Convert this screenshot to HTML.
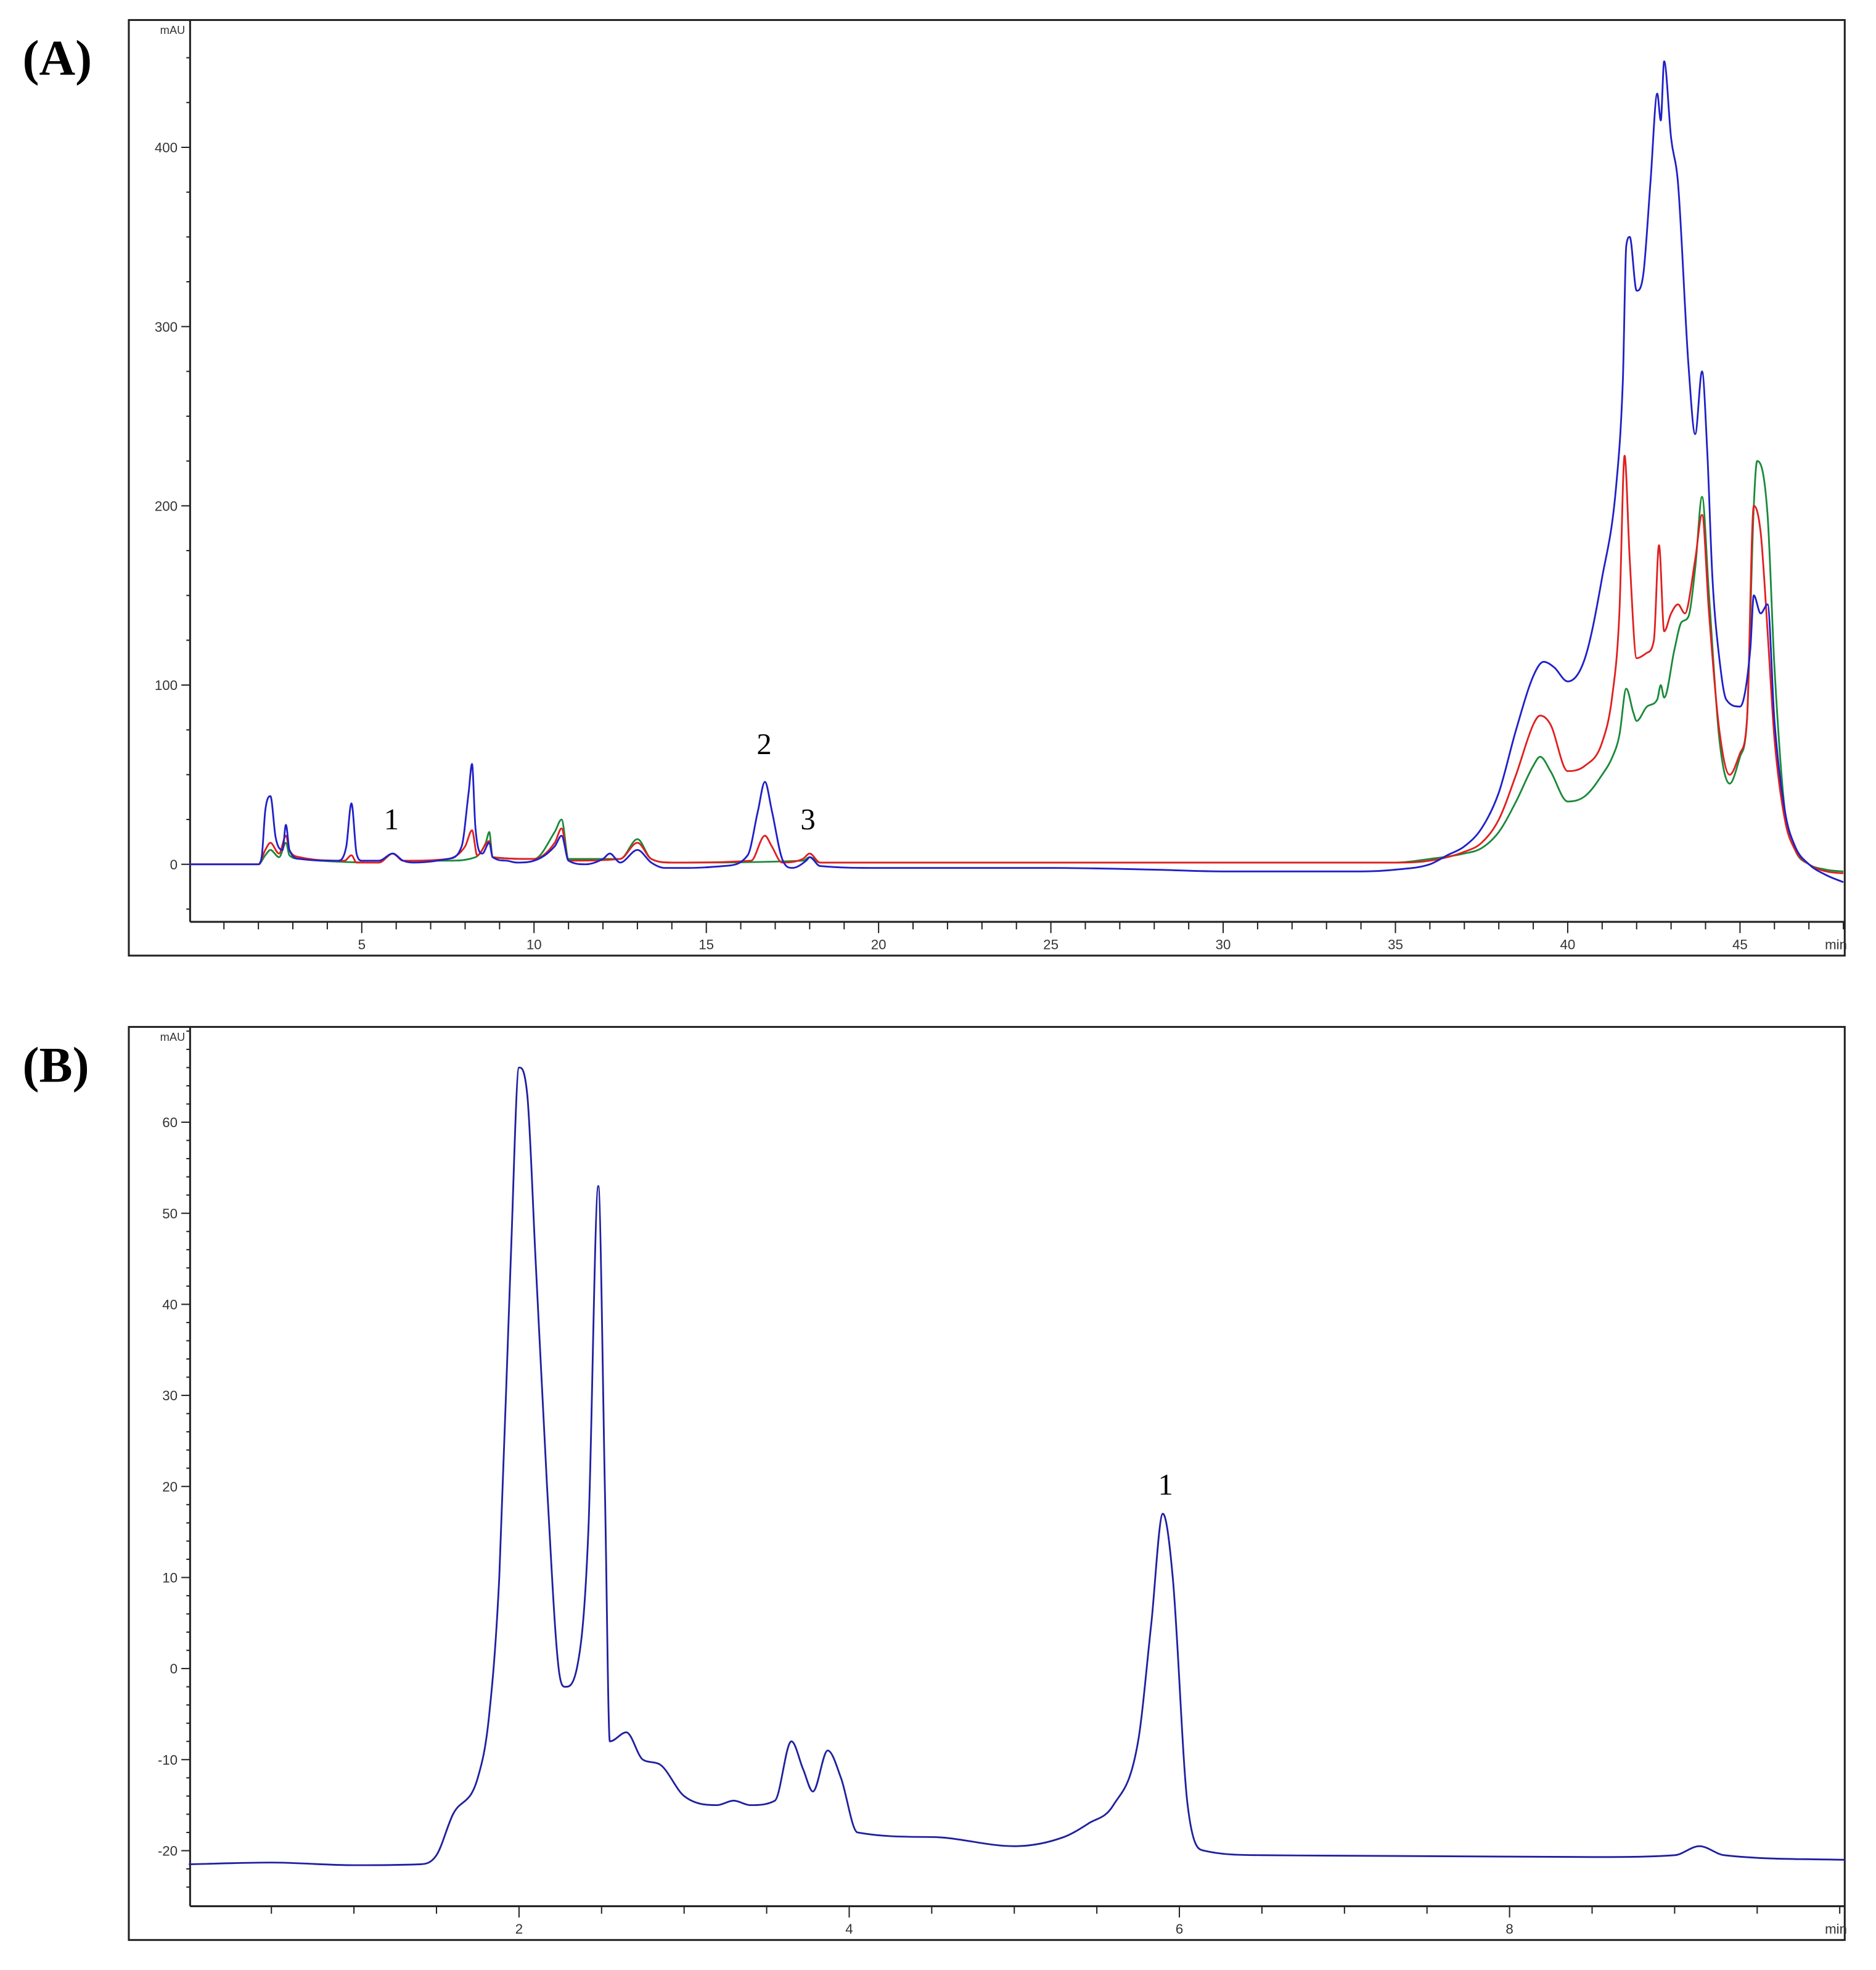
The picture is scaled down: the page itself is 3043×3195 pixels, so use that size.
<!DOCTYPE html>
<html><head><meta charset="utf-8"><style>
html,body{margin:0;padding:0;background:#fff;}
svg{display:block;}
.tk{font-family:"Liberation Sans",sans-serif;font-size:11px;fill:#333;}
.pl{font-family:"Liberation Serif",serif;font-weight:bold;font-size:40px;fill:#000;}
.pk{font-family:"Liberation Serif",serif;font-size:24px;fill:#000;}
</style></head><body>
<svg id="fig" width="3043" height="3195" viewBox="0 0 1500 1575" preserveAspectRatio="none" xmlns="http://www.w3.org/2000/svg">
<rect x="0" y="0" width="1500" height="1575" fill="#fff"/>
<text class="pl" x="18" y="60">(A)</text>
<text class="pl" x="18" y="865">(B)</text>
<rect x="103" y="16" width="1372" height="748" fill="none" stroke="#222" stroke-width="1.5"/>
<rect x="103" y="821" width="1372" height="730" fill="none" stroke="#222" stroke-width="1.5"/>
<g id="gA"></g>
<g id="gB"></g>
<text class="pk" x="313" y="663" text-anchor="middle">1</text>
<text class="pk" x="611" y="603" text-anchor="middle">2</text>
<text class="pk" x="646" y="663" text-anchor="middle">3</text>
<text class="pk" x="932" y="1195" text-anchor="middle">1</text>
</svg>
<script>
const NS="http://www.w3.org/2000/svg";
// Panel A data (time min, mAU)
const aXTicks=[5,10,15,20,25,30,35,40,45];
const aYTicks=[0,100,200,300,400];
const aBlue=[[0,0],[2.0,0],[2.1,5],[2.2,30],[2.35,38],[2.5,15],[2.7,8],[2.8,22],[2.9,8],[3.2,3],[4.3,2],[4.55,10],[4.7,34],[4.85,6],[5.0,2],[5.5,2],[5.9,6],[6.2,2],[6.5,1],[7.5,3],[7.9,10],[8.1,40],[8.2,56],[8.3,20],[8.5,6],[8.7,12],[8.8,4],[9.2,2],[9.5,1],[10.0,2],[10.6,10],[10.8,16],[11.0,2],[11.5,0],[12.0,3],[12.2,6],[12.5,1],[13.0,8],[13.4,1],[13.8,-2],[14.5,-2],[15.5,-1],[16.2,5],[16.5,30],[16.7,46],[16.9,30],[17.2,3],[17.5,-2],[17.9,2],[18.0,4],[18.3,-1],[20,-2],[25,-2],[28,-3],[30,-4],[34,-4],[35,-3],[36,0],[36.5,5],[37,10],[37.5,20],[38,40],[38.5,75],[39,105],[39.3,113],[39.6,110],[40.0,102],[40.5,115],[41,160],[41.4,210],[41.6,270],[41.7,345],[41.8,350],[42.0,320],[42.2,330],[42.4,380],[42.6,430],[42.7,415],[42.8,448],[43.0,405],[43.2,380],[43.5,280],[43.7,240],[43.9,275],[44.05,230],[44.2,160],[44.4,115],[44.6,92],[45.0,88],[45.3,120],[45.4,150],[45.6,140],[45.8,145],[46.0,80],[46.3,30],[46.6,10],[47,0],[47.5,-6],[48,-10]];
const aRed=[[0,0],[2.0,0],[2.2,8],[2.35,12],[2.6,6],[2.8,16],[2.9,8],[3.2,4],[4.5,2],[4.7,5],[4.85,1],[5.5,1],[5.9,6],[6.2,2],[7.5,3],[8.0,10],[8.2,19],[8.35,5],[8.7,13],[8.8,4],[10,3],[10.6,12],[10.8,20],[11.0,2],[12.5,3],[13.0,12],[13.4,3],[14,1],[16.3,2],[16.7,16],[16.9,10],[17.2,1],[17.8,3],[18.0,6],[18.3,1],[35,1],[36,2],[37,7],[37.5,12],[38,25],[38.5,50],[39,78],[39.2,83],[39.5,78],[40,52],[40.5,55],[41.0,68],[41.3,95],[41.5,140],[41.65,228],[41.8,170],[42.0,115],[42.3,118],[42.5,125],[42.65,178],[42.8,130],[43.0,140],[43.2,145],[43.4,140],[43.7,170],[43.9,195],[44.1,140],[44.4,75],[44.7,50],[45.0,62],[45.2,80],[45.4,200],[45.6,185],[45.8,130],[46.0,70],[46.3,25],[46.6,8],[47,0],[47.5,-4],[48,-5]];
const aGreen=[[0,0],[2.0,0],[2.2,5],[2.35,8],[2.6,4],[2.8,12],[2.9,5],[3.2,3],[5.5,1],[5.9,6],[6.2,2],[7.5,2],[8.3,4],[8.6,12],[8.7,18],[8.8,4],[10,3],[10.6,18],[10.8,25],[11.0,3],[12.5,3],[13.0,14],[13.4,3],[14,1],[17.8,2],[18.0,4],[18.3,1],[35,1],[36,3],[37,6],[37.5,9],[38,18],[38.5,35],[39,55],[39.2,60],[39.5,52],[40,35],[40.5,38],[41.0,50],[41.3,60],[41.5,72],[41.7,98],[41.9,85],[42.0,80],[42.3,88],[42.6,92],[42.7,100],[42.8,93],[43.1,120],[43.3,135],[43.5,138],[43.7,165],[43.9,205],[44.1,150],[44.4,70],[44.7,45],[45.0,60],[45.2,80],[45.4,200],[45.5,225],[45.8,195],[46.0,110],[46.3,30],[46.6,8],[47,0],[47.5,-3],[48,-4]];
// Panel B data
const bXTicks=[2,4,6,8];
const bYTicks=[-20,-10,0,10,20,30,40,50,60];
const bBlue=[[0,-21.5],[0.5,-21.3],[1.0,-21.6],[1.4,-21.5],[1.5,-20.5],[1.6,-16],[1.75,-12],[1.82,-5],[1.88,10],[1.95,45],[2.0,66],[2.05,63],[2.1,45],[2.17,20],[2.24,0],[2.28,-2],[2.35,0],[2.42,15],[2.48,53],[2.52,20],[2.55,-8],[2.65,-7],[2.75,-10],[2.85,-10.5],[3.0,-14],[3.2,-15],[3.3,-14.5],[3.4,-15],[3.55,-14.5],[3.65,-8],[3.72,-11],[3.78,-13.5],[3.87,-9],[3.95,-12],[4.05,-18],[4.5,-18.5],[5.0,-19.5],[5.3,-18.5],[5.45,-17],[5.6,-15],[5.75,-8],[5.83,5],[5.9,17],[5.96,10],[6.05,-15],[6.15,-20],[6.5,-20.5],[8.5,-20.7],[9.0,-20.5],[9.15,-19.5],[9.3,-20.5],[10.03,-21]];

function el(tag,attrs,parent){const e=document.createElementNS(NS,tag);for(const k in attrs)e.setAttribute(k,attrs[k]);parent.appendChild(e);return e;}

// monotone cubic path (no overshoot)
function monoPath(P){
  const n=P.length; if(n<2)return '';
  const d=[],m=new Array(n);
  for(let i=0;i<n-1;i++)d.push((P[i+1][1]-P[i][1])/((P[i+1][0]-P[i][0])||1e-6));
  m[0]=d[0];m[n-1]=d[n-2];
  for(let i=1;i<n-1;i++){m[i]=(d[i-1]*d[i]<=0)?0:(d[i-1]+d[i])/2;}
  for(let i=0;i<n-1;i++){
    if(d[i]===0){m[i]=0;m[i+1]=0;continue;}
    const a=m[i]/d[i],b=m[i+1]/d[i],s=a*a+b*b;
    if(s>9){const t=3/Math.sqrt(s);m[i]=t*a*d[i];m[i+1]=t*b*d[i];}
  }
  let s='M'+P[0][0].toFixed(1)+','+P[0][1].toFixed(1);
  for(let i=0;i<n-1;i++){
    const h=(P[i+1][0]-P[i][0])/3;
    s+='C'+(P[i][0]+h).toFixed(1)+','+(P[i][1]+m[i]*h).toFixed(1)+' '+(P[i+1][0]-h).toFixed(1)+','+(P[i+1][1]-m[i+1]*h).toFixed(1)+' '+P[i+1][0].toFixed(1)+','+P[i+1][1].toFixed(1);
  }
  return s;
}

function panel(g,cfg){
  const X=v=>cfg.x0+(v-cfg.xmin)*cfg.xs;
  const Y=v=>cfg.y0-(v)*cfg.ys;
  let ax=el('line',{x1:cfg.axX,y1:cfg.top,x2:cfg.axX,y2:cfg.axY,stroke:'#222','stroke-width':1.5},g);
  
  
  let bx=el('line',{x1:cfg.axX,y1:cfg.axY,x2:1475,y2:cfg.axY,stroke:'#222','stroke-width':1.5},g);
  
  
  for(let v=cfg.xmin+cfg.xminor;X(v)<1474;v+=cfg.xminor){
    const maj=cfg.xTicks.some(t=>Math.abs(t-v)<1e-6);
    const t=el('line',{x1:X(v),y1:cfg.axY,x2:X(v),y2:cfg.axY+(maj?9:6),stroke:'#222','stroke-width':1},g);
    
    
  }
  cfg.xTicks.forEach(v=>{const t=el('text',{x:X(v),y:cfg.axY+22,'text-anchor':'middle',class:'tk'},g);t.textContent=v;
    
    });
  const mn=el('text',{x:1468,y:cfg.axY+22,'text-anchor':'middle',class:'tk'},g);mn.textContent='min';
  
  
  for(let v=cfg.ymin;v<=cfg.ymax;v+=cfg.yminor){
    const y=Y(v); if(y<cfg.top+2||y>cfg.axY-1)continue;
    const maj=cfg.yTicks.some(t=>Math.abs(t-v)<1e-6);
    const t=el('line',{x1:cfg.axX-(maj?7:3),y1:y,x2:cfg.axX,y2:y,stroke:'#222','stroke-width':1},g);
    
    
  }
  cfg.yTicks.forEach(v=>{const t=el('text',{x:cfg.axX-10,y:Y(v)+4,'text-anchor':'end',class:'tk'},g);t.textContent=v;
    
    });
  const mu=el('text',{x:cfg.axX-4,y:cfg.top+11,'text-anchor':'end',class:'tk',style:'font-size:9px'},g);mu.textContent='mAU';
  
  
  cfg.series.forEach(s=>{
    const pts=s.data.map(d=>[X(d[0]),Y(d[1])]);
    const p=el('path',{d:monoPath(pts),fill:'none',stroke:s.color,'stroke-width':1.4,'stroke-linejoin':'round'},g);
    
    
  });
}
panel(document.getElementById('gA'),{x0:151.5,xmin:0,xs:27.55,y0:691,ys:1.433,axX:152,axY:737,top:16,
  xTicks:aXTicks,yTicks:aYTicks,xminor:1,yminor:25,ymin:-25,ymax:475,
  series:[{data:aGreen,color:'#1a8a3a',name:'trace-green'},{data:aRed,color:'#e02020',name:'trace-red'},{data:aBlue,color:'#2020c8',name:'trace-blue'}]});
panel(document.getElementById('gB'),{x0:151,xmin:0,xs:132,y0:1334,ys:7.28,axX:152,axY:1524,top:821,
  xTicks:bXTicks,yTicks:bYTicks,xminor:0.5,yminor:2,ymin:-26,ymax:70,
  series:[{data:bBlue,color:'#2020a0',name:'trace-blue'}]});
</script>
</body></html>
